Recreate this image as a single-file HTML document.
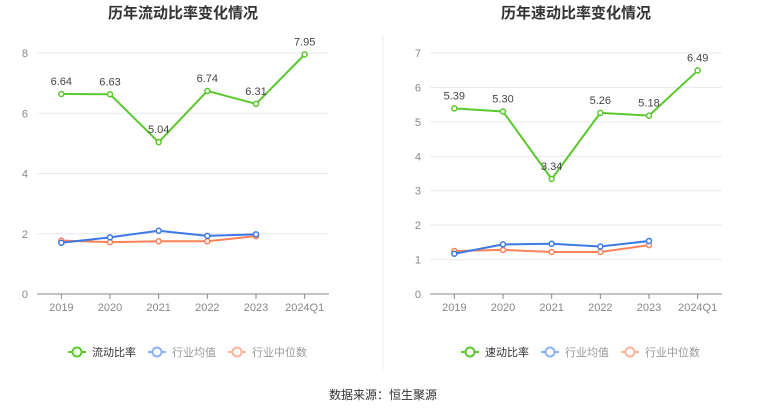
<!DOCTYPE html>
<html><head><meta charset="utf-8"><style>
body{margin:0;background:#fff;font-family:"Liberation Sans","Noto Sans CJK SC",sans-serif}
svg text{font-family:"Liberation Sans","Noto Sans CJK SC",sans-serif}
</style></head><body>
<svg id="s" width="765" height="413">
<line x1="383" y1="35" x2="383" y2="370" stroke="#eee"/>
<text x="383" y="399" text-anchor="middle" font-size="12" fill="#333">数据来源：恒生聚源</text>
</svg>
<script>
const categories=["2019","2020","2021","2022","2023","2024Q1"];
const leftMain=[6.64,6.63,5.04,6.74,6.31,7.95];
const leftAvg=[1.7,1.88,2.1,1.93,1.98];
const leftMed=[1.77,1.72,1.75,1.75,1.92];
const leftTicks=[0,2,4,6,8];
const rightMain=[5.39,5.30,3.34,5.26,5.18,6.49];
const rightAvg=[1.17,1.44,1.46,1.38,1.54];
const rightMed=[1.25,1.28,1.22,1.22,1.42];
const rightTicks=[0,1,2,3,4,5,6,7];
const NS="http://www.w3.org/2000/svg",svg=document.getElementById('s');
function mk(t,a,p){const e=document.createElementNS(NS,t);for(const k in a)e.setAttribute(k,a[k]);(p||svg).appendChild(e);return e;}
function chart(o){
 const g=mk('g',{});
 
 
 const x0=o.x0,x1=o.x0+292,yb=294,yt=53,max=o.ticks[o.ticks.length-1];
 const bw=(x1-x0)/categories.length;
 const X=i=>x0+bw*(i+0.5),Y=v=>yb-(yb-yt)*v/max;
 const t=mk('text',{x:(x0+x1)/2,y:18,'text-anchor':'middle','font-size':15,'font-weight':'bold',fill:'#333'},g);t.textContent=o.title;
 
 o.ticks.forEach(v=>{
  const l=mk('line',{x1:x0,x2:x1,y1:Y(v),y2:Y(v),stroke:v?'#e6e9f0':'#888'},g);
  
  const tx=mk('text',{x:x0-9,y:Y(v)+4,'text-anchor':'end','font-size':11,fill:'#888'},g);tx.textContent=v;
  
 });
 categories.forEach((c,i)=>{
  mk('line',{x1:X(i),x2:X(i),y1:yb,y2:yb+5,stroke:'#888'},g);
  const tx=mk('text',{x:X(i),y:yb+17,'text-anchor':'middle','font-size':11,fill:'#888'},g);tx.textContent=c;
  
 });
 function series(d,col,nm,lab){
  const p=mk('polyline',{points:d.map((v,i)=>X(i)+','+Y(v)).join(' '),fill:'none',stroke:col,'stroke-width':2},g);
  
  d.forEach((v,i)=>{
   const c=mk('circle',{cx:X(i),cy:Y(v),r:2.5,fill:'#fff',stroke:col,'stroke-width':1.5},g);
   
   if(lab){const tx=mk('text',{x:X(i),y:Y(v)-9,'text-anchor':'middle','font-size':11,fill:'#444'},g);tx.textContent=v.toFixed(2);
   }
  });
 }
 series(o.med,'#fb8159','industry-median');
 series(o.avg,'#3c78e6','industry-average');
 series(o.main,'#5ac82d',o.mainName,true);
 const leg=[[o.mainLabel,'#5ac82d','#333',0],['行业均值','#8cb1f5','#999',80],['行业中位数','#fdb49b','#999',160]];
 leg.forEach(([tx,col,tc,dx])=>{
  const lg=mk('g',{},g);
  
  const lx=x0+31+dx;
  mk('line',{x1:lx,x2:lx+18,y1:352,y2:352,stroke:col,'stroke-width':2},lg);
  mk('circle',{cx:lx+9,cy:352,r:4.5,fill:'#fff',stroke:col,'stroke-width':2},lg);
  const te=mk('text',{x:lx+24,y:356,'font-size':11,fill:tc},lg);te.textContent=tx;
 });
}
chart({name:'current-ratio-chart',title:'历年流动比率变化情况',x0:37,ticks:leftTicks,main:leftMain,avg:leftAvg,med:leftMed,mainName:'current-ratio',mainLabel:'流动比率'});
chart({name:'quick-ratio-chart',title:'历年速动比率变化情况',x0:430,ticks:rightTicks,main:rightMain,avg:rightAvg,med:rightMed,mainName:'quick-ratio',mainLabel:'速动比率'});
</script>
</body></html>
